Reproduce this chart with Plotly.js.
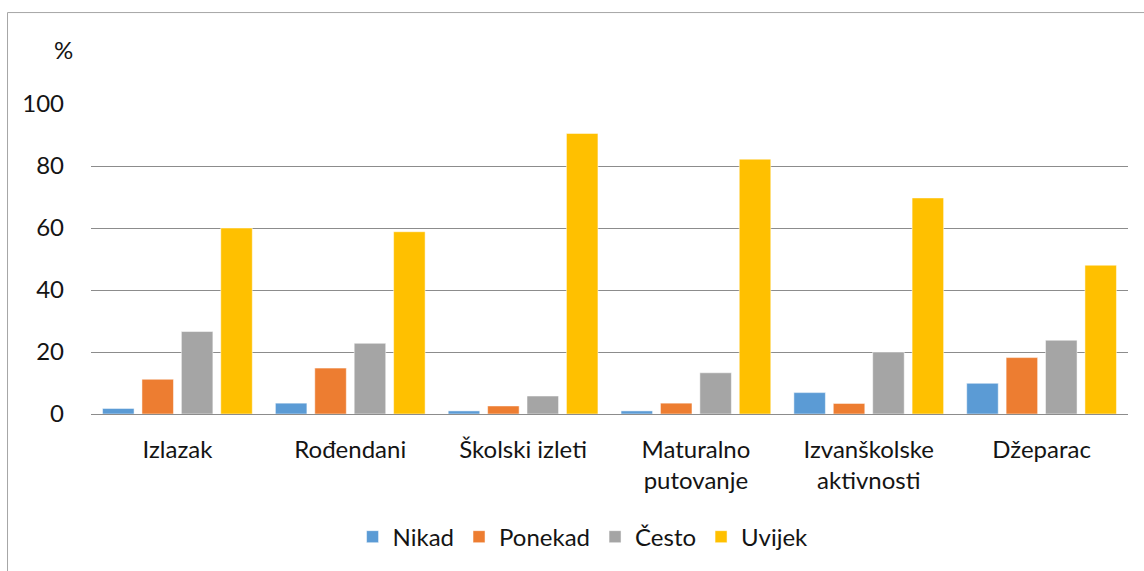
<!DOCTYPE html>
<html>
<head>
<meta charset="utf-8">
<script src="https://cdn.plot.ly/plotly-3.0.1.min.js"></script>
<style>
html,body{margin:0;padding:0;background:#fff;}
#chart{width:1144px;height:571px;}
</style>
</head>
<body>
<div id="chart"></div>
<script>
const categories = ["Izlazak", "Rođendani", "Školski izleti", "Maturalno<br>putovanje", "Izvanškolske<br>aktivnosti", "Džeparac"];
const seriesNames = ["Nikad", "Ponekad", "Često", "Uvijek"];
const nikad   = [1.8, 3.5, 1.0, 1.0, 6.9, 9.9];
const ponekad = [11.2, 14.8, 2.6, 3.5, 3.4, 18.2];
const cesto   = [26.6, 22.8, 5.8, 13.3, 20.0, 23.8];
const uvijek  = [60.0, 58.8, 90.5, 82.2, 69.7, 48.0];
const yTicks  = [0, 20, 40, 60, 80, 100];

const colors = ["#5B9BD5", "#ED7D31", "#A5A5A5", "#FFC000"];
const values = [nikad, ponekad, cesto, uvijek];

const FONT = "Lato, 'Open Sans', sans-serif";
const TXT = "#141414";
const FS = 24;

const data = values.map((v, i) => ({
  type: "bar",
  name: seriesNames[i],
  x: categories,
  y: v,
  marker: {color: colors[i], line: {color: "#ffffff", width: 0.5}},
  hoverinfo: "x+y+name"
}));

const layout = {
  width: 1144,
  height: 571,
  margin: {l: 91, r: 16, t: 104, b: 157},
  paper_bgcolor: "#ffffff",
  plot_bgcolor: "#ffffff",
  bargap: 0.088,
  bargroupgap: 0.2,
  font: {family: FONT, size: FS, color: TXT},
  showlegend: true,
  legend: {
    orientation: "h",
    x: 0.4745, xanchor: "center",
    y: -0.397, yanchor: "middle",
    font: {family: FONT, size: FS, color: TXT},
    itemwidth: 30,
    traceorder: "normal"
  },
  xaxis: {
    type: "category",
    showgrid: false,
    showline: false,
    zeroline: false,
    ticks: "",
    ticklabelstandoff: 19,
    tickfont: {family: FONT, size: FS, color: TXT},
    automargin: false
  },
  yaxis: {
    range: [0, 100],
    tickvals: yTicks,
    ticktext: yTicks.map(String),
    showgrid: true,
    gridcolor: "#8c8c8c",
    gridwidth: 1,
    zeroline: true,
    zerolinecolor: "#8c8c8c",
    zerolinewidth: 1,
    showline: false,
    ticks: "",
    ticklabelstandoff: 26,
    tickfont: {family: FONT, size: FS, color: TXT},
    automargin: false,
    fixedrange: true
  },
  annotations: [{
    text: "%",
    xref: "paper", yref: "paper",
    x: -0.027, y: 1.175,
    xanchor: "center", yanchor: "middle",
    showarrow: false,
    font: {family: FONT, size: FS, color: TXT}
  }],
  shapes: [{
    type: "rect",
    xref: "paper", yref: "paper",
    x0: -0.0805, x1: 1.2, y0: -2, y1: 1.295,
    line: {color: "#a6a6a6", width: 1},
    fillcolor: "rgba(0,0,0,0)",
    layer: "below"
  }]
};

Plotly.newPlot("chart", data, layout, {displayModeBar: false});
</script>
</body>
</html>
